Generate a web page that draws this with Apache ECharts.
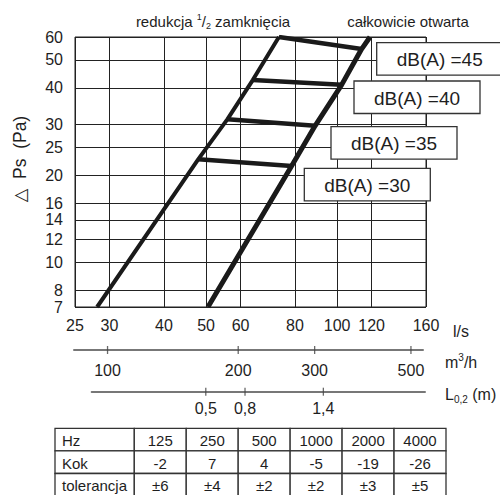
<!DOCTYPE html>
<html><head><meta charset="utf-8">
<script src="https://cdn.jsdelivr.net/npm/echarts@6/dist/echarts.min.js"></script>
<style>html,body{margin:0;padding:0;background:#fff}#c{width:500px;height:495px}</style>
</head><body><div id="c"></div>
<script>
// ---------- data ----------
const flowTicks = [25, 30, 40, 50, 60, 80, 100, 120, 160];      // l/s
const flowMin = 25, flowMax = 160;
const psTicks = [7, 8, 10, 12, 14, 16, 20, 25, 30, 40, 50, 60]; // Pa
const psMin = 7, psMax = 60;
const m3hTicks = [100, 200, 300, 500];                          // m3/h
const m3hMin = 83.7, m3hMax = 533;
const lTickFlows = [49.9, 61.4, 92.9];                          // l/s where L0,2 ticks sit
const lTickLabels = ['0,5', '0,8', '1,4'];
const lAxisMin = 27.3, lAxisMax = 159;
const reductionLine = [[28.1, 7], [48.0, 22.7], [56.0, 31.2], [64.0, 42.6], [73.5, 60]];
const openLine = [[50.5, 7], [78.6, 21.5], [89.0, 29.6], [102.4, 41.0], [113.8, 54.5], [119, 60]];
const dbLevels = [30, 35, 40, 45];
const dbSegments = [
  [[48.0, 22.7], [78.6, 21.5]],
  [[56.0, 31.2], [89.0, 29.6]],
  [[64.0, 42.6], [102.4, 41.0]],
  [[73.5, 60], [113.8, 54.5]]
];
const tableHeaders = ['Hz', 'Kok', 'tolerancja'];
const tableHz = ['125', '250', '500', '1000', '2000', '4000'];
const tableKok = ['-2', '7', '4', '-5', '-19', '-26'];
const tableTol = ['±6', '±4', '±2', '±2', '±3', '±5'];

// ---------- layout ----------
const FF = "'Liberation Sans', Arial, 'DejaVu Sans', sans-serif";
const TXT = '#1e1e1e';
const lg = v => Math.log10(v);
const boxLayout = [ {x: 304.3, y: 168.3}, {x: 331, y: 126.7}, {x: 354, y: 81}, {x: 376.7, y: 42.7} ];
const boxW = 126, boxH = 32.5;

const chart = echarts.init(document.getElementById('c'), null, {renderer: 'svg', width: 500, height: 495});

const series = [];
series.push({type: 'line', xAxisIndex: 0, yAxisIndex: 0, symbol: 'none', silent: true,
  data: reductionLine.map(p => [lg(p[0]), lg(p[1])]), lineStyle: {color: '#1a1a1a', width: 4}});
series.push({type: 'line', xAxisIndex: 0, yAxisIndex: 0, symbol: 'none', silent: true,
  data: openLine.map(p => [lg(p[0]), lg(p[1])]), lineStyle: {color: '#1a1a1a', width: 5}});
dbSegments.forEach(seg => series.push({type: 'line', xAxisIndex: 0, yAxisIndex: 0, symbol: 'none', silent: true,
  data: seg.map(p => [lg(p[0]), lg(p[1])]), lineStyle: {color: '#1a1a1a', width: 4.5}}));
// tick marks straddling the secondary axis lines
series.push({type: 'scatter', xAxisIndex: 1, yAxisIndex: 1, silent: true, symbol: 'rect', symbolSize: [1.3, 8],
  itemStyle: {color: '#444'}, data: m3hTicks.map(v => [lg(v), 0])});
series.push({type: 'scatter', xAxisIndex: 2, yAxisIndex: 2, silent: true, symbol: 'rect', symbolSize: [1.3, 8],
  itemStyle: {color: '#444'}, data: lTickFlows.map(v => [lg(v), 0])});

const graphics = [];
dbLevels.forEach((lv, i) => {
  const b = boxLayout[i];
  graphics.push({type: 'rect', shape: {x: b.x, y: b.y, width: boxW, height: boxH}, z: 100,
    style: {fill: '#fff', stroke: '#333', lineWidth: 1.3}});
  graphics.push({type: 'text', x: b.x + boxW / 2, y: b.y + boxH / 2 + 1, z: 101,
    style: {text: 'dB(A) =' + lv, fill: TXT, fontSize: 19, fontFamily: FF, align: 'center', verticalAlign: 'middle'}});
});
graphics.push({type: 'text', x: 213, y: 21, style: {text: 'redukcja {sup|1}/{sub|2} zamknięcia', fill: TXT, fontSize: 15, fontFamily: FF,
  align: 'center', verticalAlign: 'middle',
  rich: {sup: {fontSize: 9, fontFamily: FF, fill: TXT, verticalAlign: 'top', lineHeight: 18}, sub: {fontSize: 9, fontFamily: FF, fill: TXT, verticalAlign: 'bottom', lineHeight: 18}}}});
graphics.push({type: 'text', x: 408, y: 21, style: {text: 'całkowicie otwarta', fill: TXT, fontSize: 15, fontFamily: FF, align: 'center', verticalAlign: 'middle'}});
graphics.push({type: 'text', x: 20, y: 159, rotation: Math.PI / 2,
  style: {text: '△  Ps  (Pa)', fill: TXT, fontSize: 17.5, fontFamily: FF, align: 'center', verticalAlign: 'middle'}});
graphics.push({type: 'text', x: 453, y: 331, style: {text: 'l/s', fill: TXT, fontSize: 16, fontFamily: FF, align: 'left', verticalAlign: 'middle'}});
graphics.push({type: 'text', x: 445, y: 362, style: {text: 'm{sup|3}/h', fill: TXT, fontSize: 16, fontFamily: FF, align: 'left', verticalAlign: 'middle',
  rich: {sup: {fontSize: 10, fontFamily: FF, fill: TXT, verticalAlign: 'top', lineHeight: 20}}}});
graphics.push({type: 'text', x: 445, y: 394, style: {text: 'L{sub|0,2} (m)', fill: TXT, fontSize: 16, fontFamily: FF, align: 'left', verticalAlign: 'middle',
  rich: {sub: {fontSize: 10, fontFamily: FF, fill: TXT, verticalAlign: 'bottom', lineHeight: 20}}}});
const tX0 = 55, tY0 = 428.3, labW = 79.3, cellW = 51.95, rowH = 22.6;
const rows = [tableHz, tableKok, tableTol];
rows.forEach((row, r) => {
  const y = tY0 + r * rowH;
  graphics.push({type: 'rect', shape: {x: tX0, y: y, width: labW, height: rowH}, style: {fill: '#fff', stroke: '#333', lineWidth: 1.3}});
  graphics.push({type: 'text', x: tX0 + 7, y: y + rowH / 2 + 1, style: {text: tableHeaders[r], fill: TXT, fontSize: 15, fontFamily: FF, align: 'left', verticalAlign: 'middle'}});
  row.forEach((v, c) => {
    const x = tX0 + labW + c * cellW;
    graphics.push({type: 'rect', shape: {x: x, y: y, width: cellW, height: rowH}, style: {fill: '#fff', stroke: '#333', lineWidth: 1.3}});
    graphics.push({type: 'text', x: x + cellW / 2, y: y + rowH / 2 + 1, style: {text: v, fill: TXT, fontSize: 15, fontFamily: FF, align: 'center', verticalAlign: 'middle'}});
  });
});

const secLine = {show: true, onZero: false, lineStyle: {color: '#777', width: 2}};
const hidden = {axisLine: {show: false}, axisTick: {show: false}, axisLabel: {show: false}, splitLine: {show: false}};
const logFmt = v => String(Math.round(Math.pow(10, v)));

chart.setOption({
  animation: false,
  grid: [
    {left: 75, top: 37, width: 351, height: 270, show: true, borderColor: '#222', borderWidth: 1, backgroundColor: 'transparent'},
    {left: 74, top: 349, width: 349, height: 1},
    {left: 91.7, top: 390.7, width: 333.3, height: 1}
  ],
  xAxis: [
    {gridIndex: 0, type: 'value', min: lg(flowMin), max: lg(flowMax), axisLine: {show: false},
      axisTick: {show: false, customValues: flowTicks.map(lg)},
      axisLabel: {customValues: flowTicks.map(lg), formatter: logFmt, fontSize: 16, color: TXT, fontFamily: FF, margin: 10, showMinLabel: true, showMaxLabel: true, hideOverlap: false},
      splitLine: {show: true, lineStyle: {color: '#222', width: 1}}},
    {gridIndex: 1, type: 'value', min: lg(m3hMin), max: lg(m3hMax), axisLine: secLine,
      axisTick: {show: false, customValues: m3hTicks.map(lg)},
      axisLabel: {customValues: m3hTicks.map(lg), formatter: logFmt, fontSize: 16, color: TXT, fontFamily: FF, margin: 12, showMinLabel: true, showMaxLabel: true},
      splitLine: {show: false}},
    {gridIndex: 2, type: 'value', min: lg(lAxisMin), max: lg(lAxisMax), axisLine: secLine,
      axisTick: {show: false, customValues: lTickFlows.map(lg)},
      axisLabel: {customValues: lTickFlows.map(lg), formatter: v => {
        let best = 0, d = Infinity;
        lTickFlows.forEach((f, i) => { const dd = Math.abs(lg(f) - v); if (dd < d) { d = dd; best = i; } });
        return lTickLabels[best];
      }, fontSize: 16, color: TXT, fontFamily: FF, margin: 9, showMinLabel: true, showMaxLabel: true},
      splitLine: {show: false}}
  ],
  yAxis: [
    {gridIndex: 0, type: 'value', min: lg(psMin), max: lg(psMax), axisLine: {show: false},
      axisTick: {show: false, customValues: psTicks.map(lg)},
      axisLabel: {customValues: psTicks.map(lg), formatter: logFmt, fontSize: 16, color: TXT, fontFamily: FF, margin: 12, showMinLabel: true, showMaxLabel: true, hideOverlap: false},
      splitLine: {show: true, lineStyle: {color: '#222', width: 1}}},
    Object.assign({gridIndex: 1, type: 'value', min: 0, max: 1}, hidden),
    Object.assign({gridIndex: 2, type: 'value', min: 0, max: 1}, hidden)
  ],
  series: series,
  graphic: graphics
});
</script></body></html>
